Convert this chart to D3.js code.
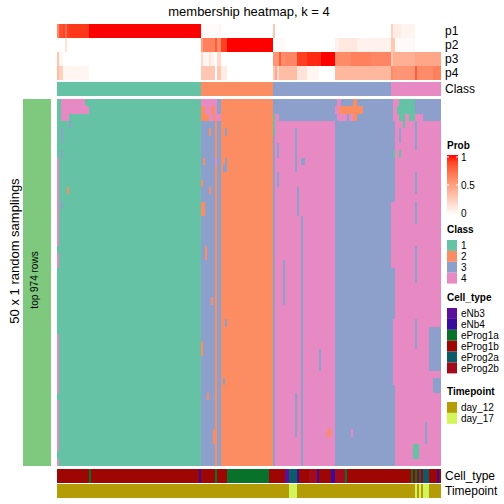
<!DOCTYPE html>
<html><head><meta charset="utf-8">
<script src="https://cdn.jsdelivr.net/npm/d3@7"></script>
<style>body{margin:0;background:#fff}svg{display:block}text{font-family:"Liberation Sans",Arial,sans-serif}</style>
</head><body><svg id="c" width="504" height="504"></svg>
<script>
// ---------- DATA (run-length encoded: [value, count]) ----------
const nCols = 192;
const nRows = 50;
const classRuns = [[1,72],[2,36],[3,59],[4,25]];
const p1Runs = [[0.6,1],[0.85,2],[0.88,1],[0.75,1],[0.9,1],[0.92,10],[1,56],[0.05,1],[0.02,8],[0.05,1],[0,26],[0.3,1],[0,58],[0.25,1],[0.1,4],[0.06,7],[0,13]];
const p2Runs = [[0,4],[0.15,1],[0,67],[0.5,1],[0.65,6],[0.8,1],[0.6,2],[0.9,3],[1,23],[0,1],[0.03,5],[0,25],[0.07,2],[0.12,9],[0.07,17],[0.3,2],[0.03,10],[0,13]];
const p3Runs = [[0.3,1],[0.05,2],[0,69],[0.2,1],[0.06,3],[0.15,1],[0.06,2],[0,1],[0.2,2],[0,26],[0.55,3],[0.8,1],[0.6,2],[0.62,6],[0.9,5],[0.95,7],[1,7],[0.6,8],[0.65,10],[0.62,10],[0.3,1],[0.42,11],[0.47,13]];
const p4Runs = [[0.35,1],[0.25,2],[0.05,13],[0,56],[0.3,7],[0,1],[0.3,2],[0.1,3],[0,23],[0.3,1],[0.45,1],[0.2,1],[0.35,9],[0.15,5],[0.05,6],[0,8],[0.38,28],[0.6,1],[0.55,11],[0.8,1],[0.6,8],[0.65,4]];
const cellTypeRuns = [["eProg1b",16],["eProg1a",1],["eProg1b",54],["eNb4",1],["eProg1b",7],["eProg1a",1],["eProg1b",5],["eProg1a",21],["eProg1b",8],["eNb3",2],["eProg2a",4],["eNb4",1],["eProg1b",5],["eProg2b",4],["eNb4",1],["eProg1b",6],["eNb4",2],["eProg2b",5],["eProg1a",1],["eProg1b",32],["eProg1a",1],["eProg1b",1],["eProg1a",1],["eProg1b",1],["eProg2a",1],["eProg1b",1],["eProg2a",3],["eProg1b",4],["eNb4",1],["eProg1b",1]];
const timepointRuns = [["day_12",116],["day_17",4],["day_12",59],["day_17",1],["day_12",1],["day_17",1],["day_12",1],["day_17",3],["day_12",6]];
// main membership matrix: base class of each column + patches [rowFrom,rowTo,colFrom,colTo,class]
const mainBaseRuns = [[4,1],[1,71],[3,7],[2,1],[3,2],[2,26],[3,1],[4,30],[3,30],[4,23]];
const mainPatches = [
 [0,0,2,13,4],[1,1,2,15,4],[2,2,2,5,4],[3,3,6,6,3],[4,5,2,2,3],[7,7,2,2,3],[12,12,5,5,2],[14,14,2,2,3],
 [0,7,0,0,1],[20,20,0,0,1],[23,31,0,0,1],[40,40,0,0,1],[48,48,0,0,1],
 [0,0,72,79,4],[1,1,72,73,2],[1,1,74,76,4],[1,1,77,78,2],[1,1,79,79,4],
 [2,2,72,75,2],[2,2,76,77,4],[2,2,78,78,2],[2,2,79,81,4],
 [4,4,76,76,2],[4,4,84,84,3],[8,8,73,73,2],[8,8,79,79,4],[8,9,84,84,3],[9,9,83,83,3],
 [11,11,72,72,2],[12,12,76,76,2],[14,15,72,73,2],
 [20,21,74,74,2],[27,27,77,77,2],[33,34,72,72,2],[40,40,75,75,2],[45,46,78,78,2],[30,30,84,84,3],[38,38,83,83,3],
 [0,2,109,139,3],[2,2,109,110,4],[0,0,140,141,4],[1,1,139,140,4],[1,1,141,152,2],
 [2,2,140,144,4],[2,2,146,147,4],[0,2,148,149,2],[2,4,108,108,1],
 [6,7,110,110,3],[10,11,110,110,3],[4,9,119,119,3],[12,15,120,120,3],[8,8,122,123,3],
 [16,49,122,122,3],[22,27,113,113,3],[40,45,119,119,3],[34,36,131,131,3],
 [45,45,135,136,2],[45,45,147,147,4],
 [14,22,167,168,4],[30,38,168,168,4],
 [0,2,168,170,4],[0,1,171,178,1],[1,1,170,170,1],[2,2,171,173,1],[2,2,176,178,1],
 [0,1,179,191,3],[2,2,183,191,3],[3,3,173,173,1],[7,7,168,168,1],[7,7,171,171,1],
 [3,6,179,179,3],[10,12,179,179,3],[14,16,179,179,3],[20,24,179,179,3],[30,33,179,179,3],
 [4,5,171,171,3],[31,36,186,191,3],[38,39,188,191,3],[44,46,184,184,3],[47,48,178,180,1]
];
const classColors = {1:"#66C2A5",2:"#FC8D62",3:"#8DA0CB",4:"#E78AC3"};
const cellTypes = ["eNb3","eNb4","eProg1a","eProg1b","eProg2a","eProg2b"];
const cellTypeColors = ["#5B119C","#380C9C","#08722A","#9E0604","#0D5B68","#A30B1C"];
const timepoints = ["day_12","day_17"];
const timepointColors = ["#B39C06","#D2F55C"];
const probTicks = [0, 0.5, 1];

// ---------- helpers ----------
const expand = runs => runs.flatMap(([v,n]) => Array(n).fill(v));
const classes = expand(classRuns);
const pRows = {p1: expand(p1Runs), p2: expand(p2Runs), p3: expand(p3Runs), p4: expand(p4Runs)};
const cellType = expand(cellTypeRuns);
const timepoint = expand(timepointRuns);
const base = expand(mainBaseRuns);
const matrix = d3.range(nRows).map(() => base.slice());
mainPatches.forEach(([r0,r1,c0,c1,k]) => { for (let r=r0;r<=r1;r++) for (let c=c0;c<=c1;c++) matrix[r][c]=k; });

const svg = d3.select("#c");
const x = d3.scaleBand().domain(d3.range(nCols)).range([57,441]);
const y = d3.scaleBand().domain(d3.range(nRows)).range([99,466]);
const probColor = d3.scaleLinear().domain([0,1]).range(["#ffffff","#ff0000"]).interpolate(d3.interpolateLab);
const ctColor = d3.scaleOrdinal().domain(cellTypes).range(cellTypeColors);
const tpColor = d3.scaleOrdinal().domain(timepoints).range(timepointColors);

// title
svg.append("text").attr("x",249).attr("y",16).attr("text-anchor","middle").attr("font-size",13).text("membership heatmap, k = 4");

// top annotation
const pY = d3.scaleBand().domain(["p1","p2","p3","p4"]).range([24,80]);
const g = svg.append("g").attr("shape-rendering","crispEdges");
Object.keys(pRows).forEach(k => {
  g.selectAll(null).data(pRows[k]).join("rect")
    .attr("x",(d,i)=>x(i)).attr("width",x.bandwidth()+0.3)
    .attr("y",pY(k)).attr("height",pY.bandwidth()).attr("fill",d=>probColor(d));
  svg.append("text").attr("x",445).attr("y",pY(k)+pY.bandwidth()/2).attr("dy","0.35em").attr("font-size",12).text(k);
});
g.selectAll(null).data(classes).join("rect")
  .attr("x",(d,i)=>x(i)).attr("width",x.bandwidth()+0.3)
  .attr("y",82).attr("height",14).attr("fill",d=>classColors[d]);
svg.append("text").attr("x",445).attr("y",89).attr("dy","0.35em").attr("font-size",12).text("Class");

// main heatmap
matrix.forEach((row,r) => {
  g.selectAll(null).data(row).join("rect")
    .attr("x",(d,i)=>x(i)).attr("width",x.bandwidth()+0.3)
    .attr("y",y(r)).attr("height",y.bandwidth()+0.3).attr("fill",d=>classColors[d]);
});

// left split bar and titles
svg.append("rect").attr("x",23).attr("y",99).attr("width",28).attr("height",367).attr("fill","#7FC97F");
svg.append("text").attr("transform","translate(38,280) rotate(-90)").attr("text-anchor","middle").attr("font-size",10).text("top 974 rows");
svg.append("text").attr("transform","translate(19,251) rotate(-90)").attr("text-anchor","middle").attr("font-size",13).text("50 x 1 random samplings");

// bottom annotations
g.selectAll(null).data(cellType).join("rect")
  .attr("x",(d,i)=>x(i)).attr("width",x.bandwidth()+0.3)
  .attr("y",469).attr("height",14).attr("fill",d=>ctColor(d));
g.selectAll(null).data(timepoint).join("rect")
  .attr("x",(d,i)=>x(i)).attr("width",x.bandwidth()+0.3)
  .attr("y",484).attr("height",14).attr("fill",d=>tpColor(d));
svg.append("text").attr("x",445).attr("y",476).attr("dy","0.35em").attr("font-size",12).text("Cell_type");
svg.append("text").attr("x",445).attr("y",491).attr("dy","0.35em").attr("font-size",12).text("Timepoint");

// legends
const L = svg.append("g");
const lx = 447;
L.append("text").attr("x",lx).attr("y",149).attr("font-size",10).attr("font-weight","bold").text("Prob");
const grad = svg.append("defs").append("linearGradient").attr("id","pg").attr("x1",0).attr("x2",0).attr("y1",1).attr("y2",0);
d3.range(0,1.001,0.1).forEach(t => grad.append("stop").attr("offset",t).attr("stop-color",probColor(t)));
L.append("rect").attr("x",lx).attr("y",155).attr("width",11).attr("height",60).attr("fill","url(#pg)");
const py = d3.scaleLinear().domain([0,1]).range([213,157]);
probTicks.forEach(t => {
  L.append("line").attr("x1",lx).attr("x2",lx+2).attr("y1",py(t)).attr("y2",py(t)).attr("stroke","#fff");
  L.append("line").attr("x1",lx+9).attr("x2",lx+11).attr("y1",py(t)).attr("y2",py(t)).attr("stroke","#fff");
  L.append("text").attr("x",lx+14).attr("y",py(t)).attr("dy","0.35em").attr("font-size",10).text(t);
});
function discrete(title, ty, labels, colors) {
  L.append("text").attr("x",lx).attr("y",ty).attr("font-size",10).attr("font-weight","bold").text(title);
  labels.forEach((lab,i) => {
    const yy = ty + 7 + i*10.9;
    L.append("rect").attr("x",lx).attr("y",yy).attr("width",10).attr("height",10.9).attr("fill",colors[i]);
    L.append("text").attr("x",lx+14).attr("y",yy+5.5).attr("dy","0.35em").attr("font-size",10).text(lab);
  });
}
discrete("Class", 233, ["1","2","3","4"], [1,2,3,4].map(k=>classColors[k]));
discrete("Cell_type", 301, cellTypes, cellTypeColors);
discrete("Timepoint", 395, timepoints, timepointColors);
</script></body></html>
